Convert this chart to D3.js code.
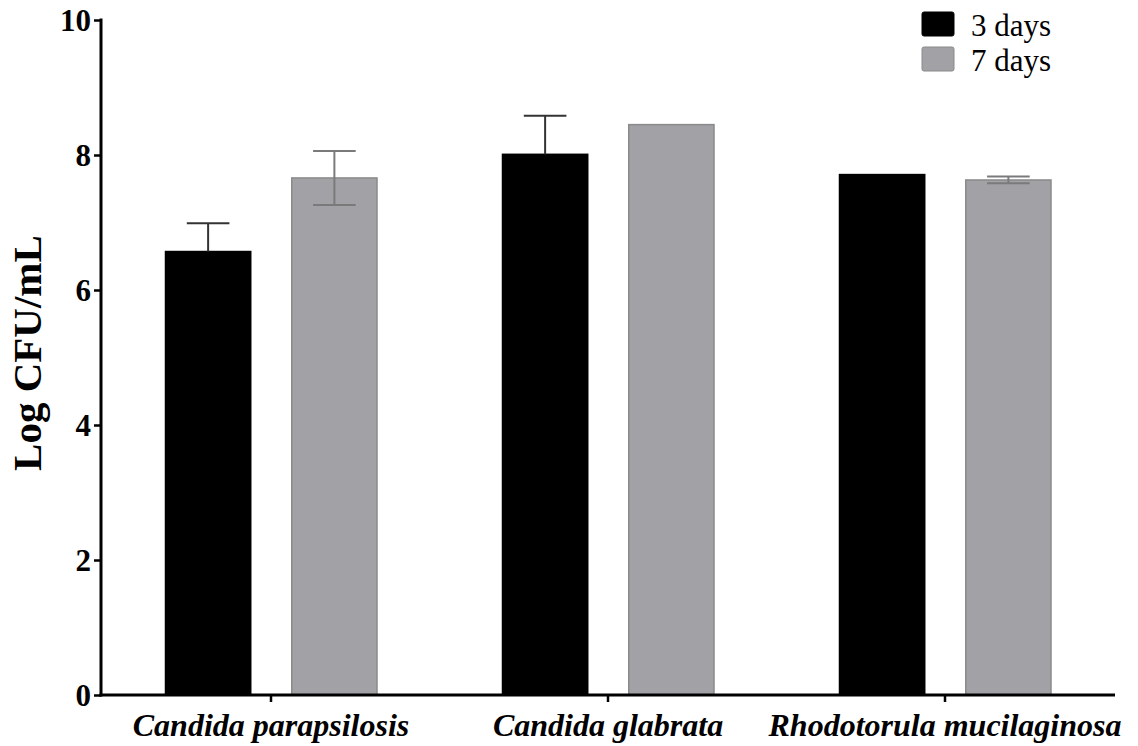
<!DOCTYPE html>
<html>
<head>
<meta charset="utf-8">
<script src="https://cdn.jsdelivr.net/npm/d3@7"></script>
<style>
  body { margin: 0; background: #fff; }
  text { font-family: "Liberation Serif", "Times New Roman", serif; }
</style>
</head>
<body>
<script>
// data
var species = ["Candida parapsilosis", "Candida glabrata", "Rhodotorula mucilaginosa"];
var groups = ["3 days", "7 days"];
var day3 = [6.57, 8.01, 7.71];
var day3Err = [0.42, 0.57, 0];
var day7 = [7.66, 8.45, 7.63];
var day7Err = [0.40, 0, 0.05];
var yTicks = [0, 2, 4, 6, 8, 10];

var fills = { "3 days": "#000000", "7 days": "#a2a2a6" };
var strokes = { "3 days": "#000000", "7 days": "#8a8a8a" };
var errColors = { "3 days": "#333333", "7 days": "#7a7a7a" };
var serif = "'Liberation Serif', 'Times New Roman', serif";

var width = 1138,
    height = 746;

var svg = d3.select("body").append("svg")
    .attr("width", width)
    .attr("height", height);

var x0 = d3.scaleBand().domain(species).range([102.5, 1113.5]).padding(0);
var x1 = d3.scaleBand().domain(groups).range([63, 274.5]).paddingInner(0.325);
var y = d3.scaleLinear().domain([0, 10]).range([695, 20]);

// build rows
var rows = [];
species.forEach(function(s, i) {
    rows.push({ sp: s, g: "3 days", v: day3[i], e: day3Err[i] });
    rows.push({ sp: s, g: "7 days", v: day7[i], e: day7Err[i] });
});

function cx(d) { return x0(d.sp) + x1(d.g) + x1.bandwidth() / 2; }

// bars
svg.append("g").selectAll("rect")
    .data(rows)
    .enter().append("rect")
    .attr("x", function(d) { return x0(d.sp) + x1(d.g); })
    .attr("y", function(d) { return y(d.v); })
    .attr("width", x1.bandwidth())
    .attr("height", function(d) { return y(0) - y(d.v); })
    .attr("fill", function(d) { return fills[d.g]; })
    .attr("stroke", function(d) { return strokes[d.g]; })
    .attr("stroke-width", 1.5);

// error bars (lower half hidden inside the black bars)
var eb = svg.append("g").selectAll("g")
    .data(rows.filter(function(d) { return d.e > 0; }))
    .enter().append("g")
    .attr("stroke", function(d) { return errColors[d.g]; })
    .attr("stroke-width", 2);

eb.append("line")
    .attr("x1", cx)
    .attr("x2", cx)
    .attr("y1", function(d) { return y(d.v + d.e); })
    .attr("y2", function(d) { return d.g == "3 days" ? y(d.v) : y(d.v - d.e); });

eb.append("line")
    .attr("x1", function(d) { return cx(d) - x1.bandwidth() / 4; })
    .attr("x2", function(d) { return cx(d) + x1.bandwidth() / 4; })
    .attr("y1", function(d) { return y(d.v + d.e); })
    .attr("y2", function(d) { return y(d.v + d.e); });

eb.filter(function(d) { return d.g == "7 days"; }).append("line")
    .attr("x1", function(d) { return cx(d) - x1.bandwidth() / 4; })
    .attr("x2", function(d) { return cx(d) + x1.bandwidth() / 4; })
    .attr("y1", function(d) { return y(d.v - d.e); })
    .attr("y2", function(d) { return y(d.v - d.e); });

// y axis
var yAxis = svg.append("g")
    .attr("transform", "translate(101,0)")
    .call(d3.axisLeft(y).tickValues(yTicks).tickSize(7).tickPadding(3).tickSizeOuter(0));
yAxis.attr("font-family", serif);
yAxis.select(".domain").attr("stroke-width", 3).attr("d", "M0,18.5V696.5");
yAxis.selectAll(".tick line").attr("stroke-width", 2.5);
yAxis.selectAll(".tick text")
    .attr("font-family", serif)
    .attr("font-size", 31)
    .attr("font-weight", "bold")
    .attr("dy", "0.33em")
    .attr("fill", "#000");

// x axis
var xAxis = svg.append("g")
    .attr("transform", "translate(0,695)")
    .call(d3.axisBottom(x0).tickSize(7).tickSizeOuter(0).tickPadding(8));
xAxis.attr("font-family", serif);
xAxis.select(".domain").attr("stroke-width", 3).attr("d", "M99.5,0H1115");
xAxis.selectAll(".tick line").attr("stroke-width", 2.5);
xAxis.selectAll(".tick text")
    .attr("font-family", serif)
    .attr("font-size", 32)
    .attr("font-weight", "bold")
    .attr("font-style", "italic")
    .attr("dy", "0.8em")
    .attr("fill", "#000");

// y label
svg.append("text")
    .attr("transform", "translate(41,353) rotate(-90)")
    .attr("text-anchor", "middle")
    .attr("font-size", 41)
    .attr("font-weight", "bold")
    .text("Log CFU/mL");

// legend
var legend = svg.append("g").selectAll("g")
    .data(groups)
    .enter().append("g")
    .attr("transform", function(d, i) { return "translate(922," + (12 + i * 35) + ")"; });

legend.append("rect")
    .attr("width", 32)
    .attr("height", 24)
    .attr("rx", 2)
    .attr("fill", function(d) { return fills[d]; })
    .attr("stroke", function(d) { return strokes[d]; })
    .attr("stroke-width", 1);

legend.append("text")
    .attr("x", 49)
    .attr("y", 24)
    .attr("font-size", 31)
    .text(function(d) { return d; });
</script>
</body>
</html>
